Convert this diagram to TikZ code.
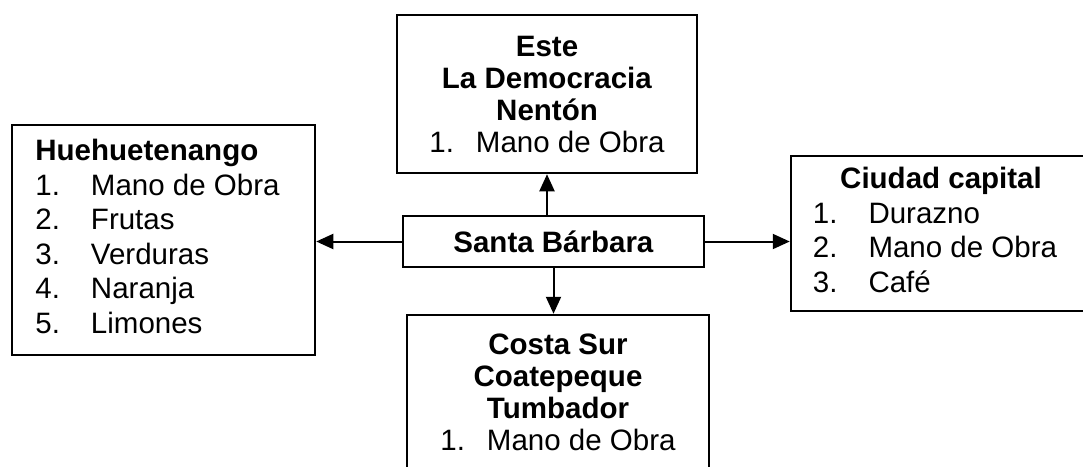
\documentclass[tikz,border=0pt]{standalone}
\usepackage{fontspec}
\setmainfont{Liberation Sans}
\usetikzlibrary{arrows.meta}
\begin{document}
\begin{tikzpicture}[x=1pt,y=-1pt,
  box/.style={draw=black, line width=2.5pt, rectangle, inner sep=0pt, fill=white},
  big/.style={font=\fontsize{29.5}{32}\selectfont},
  bigl/.style={font=\fontsize{29.5}{34.5}\selectfont},
  arr/.style={line width=2pt, -{Triangle[length=17pt,width=15pt]}}]
\useasboundingbox (0,0) rectangle (1083,466);
\clip (0,0) rectangle (1083,466);
\fill[white] (0,0) rectangle (1083,466);
% top box
\node[box, big, minimum width=300pt, minimum height=158pt, align=center] (este) at (547,94)
  {\textbf{Este}\\ \textbf{La Democracia}\\ \textbf{Nentón}\\ 1.\hspace{22pt}Mano de Obra};
% left box
\node[box, bigl, minimum width=303pt, minimum height=230pt] (hue) at (163.5,240)
  {\begin{tabular}{@{}l@{\hspace{31pt}}l@{\hspace{12pt}}}\multicolumn{2}{@{}l@{}}{\textbf{Huehuetenango}}\\
   1.&Mano de Obra\\ 2.&Frutas\\ 3.&Verduras\\ 4.&Naranja\\ 5.&Limones\end{tabular}};
% right box
\node[box, bigl, minimum width=300pt, minimum height=155pt] (cap) at (941,233.5)
  {\begin{tabular}{@{}l@{\hspace{31pt}}l@{\hspace{12pt}}}\multicolumn{2}{@{}c@{}}{\textbf{Ciudad capital}}\\
   1.&Durazno\\ 2.&Mano de Obra\\ 3.&Café\end{tabular}};
% center box
\node[box, big, minimum width=301pt, minimum height=51pt] (sb) at (553.5,241.5)
  {\textbf{Santa Bárbara}};
% bottom box
\node[box, big, minimum width=302pt, minimum height=155pt, align=center] (cs) at (558,392.5)
  {\textbf{Costa Sur}\\ \textbf{Coatepeque}\\ \textbf{Tumbador}\\ 1.\hspace{22pt}Mano de Obra};
% arrows
\draw[arr] (sb.west) -- (sb.west -| hue.east);
\draw[arr] (sb.east) -- (sb.east -| cap.west);
\draw[arr] (este.south |- sb.north) -- (este.south);
\draw[arr] (sb.south) -- (sb.south |- cs.north);
\end{tikzpicture}
\end{document}
